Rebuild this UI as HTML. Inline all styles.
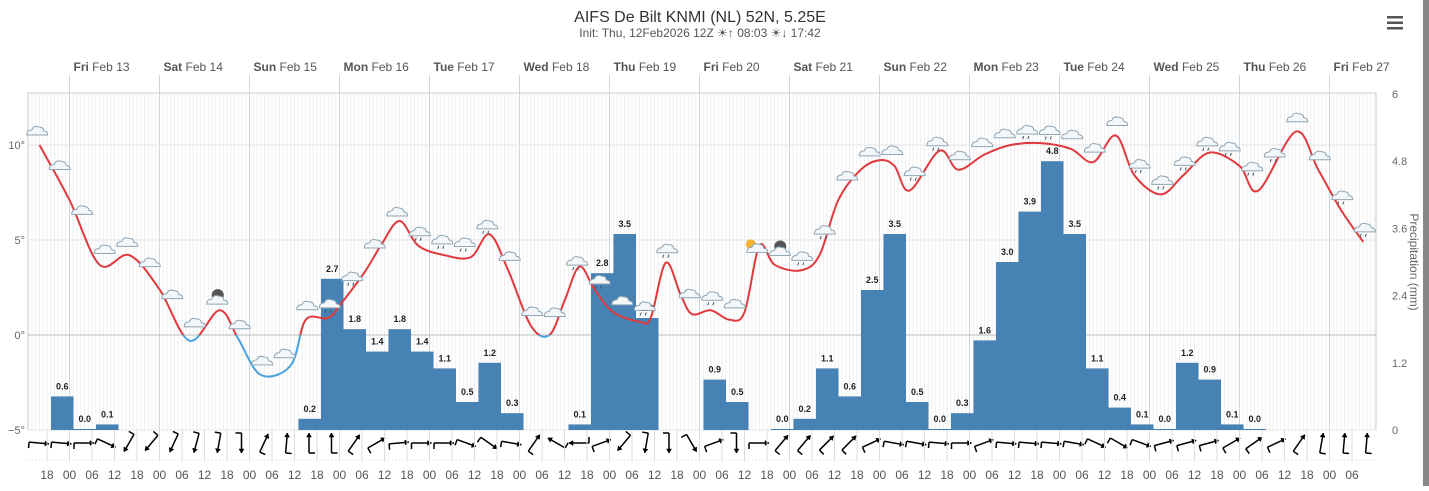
<!DOCTYPE html>
<html><head><meta charset="utf-8"><style>
body{margin:0;background:#fff;width:1429px;height:486px;overflow:hidden;font-family:"Liberation Sans",sans-serif}
</style></head><body>
<svg id="c" width="1429" height="486" viewBox="0 0 1429 486" xmlns="http://www.w3.org/2000/svg" font-family="Liberation Sans, sans-serif">
<defs>
<clipPath id="above"><rect x="0" y="0" width="1429" height="335"/></clipPath>
<clipPath id="below"><rect x="0" y="335" width="1429" height="200"/></clipPath>
</defs>
<rect x="0" y="0" width="1429" height="486" fill="#fff"/>
<g id="grid"></g>
<g id="bars"></g>
<g id="temp"></g>
<g id="icons"></g>
<g id="wind"></g>
<g id="axes"></g>
<text x="700" y="22" text-anchor="middle" font-size="16" fill="#333">AIFS De Bilt KNMI (NL) 52N, 5.25E</text>
<text x="700" y="37" text-anchor="middle" font-size="12" fill="#555">Init: Thu, 12Feb2026 12Z ☀↑ 08:03 ☀↓ 17:42</text>
<g fill="#555">
<rect x="1387" y="16" width="16" height="2.5"/><rect x="1387" y="21.5" width="16" height="2.5"/><rect x="1387" y="27" width="16" height="2.5"/>
</g>
<rect x="1423" y="0" width="6" height="486" fill="#888"/>
<text transform="translate(1410,262) rotate(90)" text-anchor="middle" font-size="12" fill="#666">Precipitation (mm)</text>
</svg>
<script>
// ---- data ----
const precipValues=[0.6,0.0,0.1,null,null,null,null,null,null,null,null,0.2,2.7,1.8,1.4,1.8,1.4,1.1,0.5,1.2,0.3,null,null,0.1,2.8,3.5,2.0,null,null,0.9,0.5,null,0.0,0.2,1.1,0.6,2.5,3.5,0.5,0.0,0.3,1.6,3.0,3.9,4.8,3.5,1.1,0.4,0.1,0.0,1.2,0.9,0.1,0.0];
const precipStartHour=-6; // first bar starts Thu 18Z
const tempHours=[-8,0,8,16,24,32,40,45,51,59,63,69,73,79,83,88,93,100,107,112,117,123,128,132,136,140,145,152,155,159,163,166,171,176,180,184,188,195,200,205,211,216,220,224,232,237,244,251,259,267,273,279,284,291,297,304,312,317,327,333,339,345];
const tempValues=[10.0,7.1,3.7,4.2,2.4,-0.3,1.3,-0.2,-2.1,-1.6,0.8,0.9,1.8,3.4,4.7,6.0,4.7,4.2,4.1,5.3,3.4,0.5,0.0,1.8,3.6,2.4,1.2,0.7,0.9,3.8,2.1,1.1,1.3,0.8,1.2,4.7,3.7,3.4,4.2,7.1,8.7,9.2,8.9,7.6,9.7,8.7,9.5,10.0,10.1,9.8,9.1,10.5,8.4,7.4,8.4,9.6,8.9,7.6,10.7,8.7,6.6,4.9];
const tempTicks=[10,5,0,-5];
const precipTicks=[6,4.8,3.6,2.4,1.2,0];
const dayLabels=[["Fri","Feb 13"],["Sat","Feb 14"],["Sun","Feb 15"],["Mon","Feb 16"],["Tue","Feb 17"],["Wed","Feb 18"],["Thu","Feb 19"],["Fri","Feb 20"],["Sat","Feb 21"],["Sun","Feb 22"],["Mon","Feb 23"],["Tue","Feb 24"],["Wed","Feb 25"],["Thu","Feb 26"],["Fri","Feb 27"]];
const hourLabels=["18","00","06","12"];
// direction the arrow points (deg, 0 = up/north, 90 = right/east)
const windDirs=[95,95,90,115,210,220,205,195,190,180,25,5,0,0,35,60,85,90,90,110,125,100,35,300,270,70,220,190,180,150,70,180,90,40,40,45,45,65,100,100,95,90,70,95,95,95,100,115,120,110,75,75,75,60,55,65,35,10,5,5];
const iconKinds="ccccccccmccccrrccrrrrcccrrcrrcrcsmrrcccrrcccrrcccrrrrrrrccrrcccmmm";
// ---- scales ----
const X=h=>69.5+h*3.75;
const YT=t=>335-t*19;
const YP=p=>430-p*56;
const NS="http://www.w3.org/2000/svg";
function mk(tag,attrs,parent){const e=document.createElementNS(NS,tag);for(const k in attrs)e.setAttribute(k,attrs[k]);parent.appendChild(e);return e;}
const grid=document.getElementById('grid'),axes=document.getElementById('axes');
for(let x=28.25;x<1376;x+=3.75){const l=mk('line',{x1:x,x2:x,y1:93,y2:430,stroke:'#efefef','stroke-width':1},grid);}
for(let d=0;d<15;d++){const x=X(d*24);const l=mk('line',{x1:x,x2:x,y1:75,y2:430,stroke:'#ccd6e0','stroke-width':1},grid);
const t=mk('text',{x:x+4,y:71,'font-size':12,fill:'#555'},axes);
const b=mk('tspan',{'font-weight':'bold'},t);b.textContent=dayLabels[d][0];const s=mk('tspan',{},t);s.textContent=' '+dayLabels[d][1];}
mk('rect',{x:28,y:93,width:1348,height:337,fill:'none',stroke:'#ccc'},grid);
tempTicks.forEach(t=>{const y=YT(t);const l=mk('line',{x1:28,x2:1376,y1:y,y2:y,stroke:t===0?'#bbb':'#e6e6e6','stroke-width':1},grid);
const tx=mk('text',{x:25,y:y+4,'text-anchor':'end','font-size':11,fill:'#666'},axes);tx.textContent=(t<0?'−':'')+Math.abs(t)+'°';});
precipTicks.forEach(p=>{const tx=mk('text',{x:1392,y:YP(p)+4,'font-size':11,fill:'#666'},axes);tx.textContent=p;});
mk('line',{x1:28,x2:1376,y1:460,y2:460,stroke:'#ccc','stroke-dasharray':'1 2.75'},axes);
for(let k=0;k<61;k++){const h=-6+6*k;if(h>342)break;const x=X(h);
const l=mk('line',{x1:x,x2:x,y1:430,y2:462,stroke:'#ddd'},axes);
const t=mk('text',{x:x,y:479,'text-anchor':'middle','font-size':12,fill:'#555'},axes);t.textContent=hourLabels[k%4];}
const bars=document.getElementById('bars');
precipValues.forEach((v,i)=>{if(v===null)return;const h=precipStartHour+6*i;const x0=X(h)+4,x1=X(h+6)+4;const y=YP(v);
const r=mk('rect',{x:x0,y:Math.min(y,429),width:x1-x0,height:Math.max(430-y,1),fill:'#4682b4'},bars);
const t=mk('text',{x:(x0+x1)/2,y:Math.min(y,429)-7,'text-anchor':'middle','font-size':9,'font-weight':'bold',fill:'#222'},bars);t.textContent=v.toFixed(1);});
const pts=tempHours.map((h,i)=>[X(h),YT(tempValues[i])]);
let d='M'+pts[0][0]+','+pts[0][1];
for(let i=0;i<pts.length-1;i++){const p0=pts[Math.max(0,i-1)],p1=pts[i],p2=pts[i+1],p3=pts[Math.min(pts.length-1,i+2)];
const c1=[p1[0]+(p2[0]-p0[0])/6,p1[1]+(p2[1]-p0[1])/6],c2=[p2[0]-(p3[0]-p1[0])/6,p2[1]-(p3[1]-p1[1])/6];
d+=' C'+c1[0]+','+c1[1]+' '+c2[0]+','+c2[1]+' '+p2[0]+','+p2[1];}
const tg=document.getElementById('temp');
const pr=mk('path',{d:d,fill:'none',stroke:'#e0393e','stroke-width':2,'clip-path':'url(#above)'},tg);
const pb=mk('path',{d:d,fill:'none',stroke:'#4aa3df','stroke-width':2,'clip-path':'url(#below)'},tg);
function tempAt(h){for(let i=0;i<tempHours.length-1;i++){if(h<=tempHours[i+1]){const f=(h-tempHours[i])/(tempHours[i+1]-tempHours[i]);return tempValues[i]+f*(tempValues[i+1]-tempValues[i]);}}return tempValues[tempValues.length-1];}
const ig=document.getElementById('icons');
for(let k=0;;k++){const h=-9+6*k;if(h>345)break;const cx=X(h),cy=YT(tempAt(Math.max(h,-8)))-14;
const g=mk('g',{},ig);
const kind=iconKinds[k]||'c';
if(kind==='s'){mk('circle',{cx:cx-5,cy:cy-4,r:5,fill:'#f5b335'},g);}
if(kind==='m'){mk('circle',{cx:cx+2,cy:cy-5,r:6,fill:'#555'},g);}
mk('path',{d:`M${cx-9},${cy+4} q0,-5 5,-5 q2,-5 7,-3 q5,0 5,4 q4,0 4,4 z`,fill:'#f4f7f9',stroke:'#8fa6b5','stroke-width':1},g);
if(kind==='r'){mk('line',{x1:cx-2,y1:cy+6,x2:cx-3,y2:cy+9,stroke:'#456','stroke-width':1},g);mk('line',{x1:cx+3,y1:cy+6,x2:cx+2,y2:cy+9,stroke:'#456','stroke-width':1},g);}
}
const wg=document.getElementById('wind');
windDirs.forEach((dir,i)=>{const cx=X(-6+6*i)-8,cy=443;const a=dir*Math.PI/180;const dx=Math.sin(a)*10,dy=-Math.cos(a)*10;
const g=mk('g',{stroke:'#000','stroke-width':1.5,fill:'none'},wg);
const x1=cx-dx,y1=cy-dy,x2=cx+dx,y2=cy+dy;
mk('line',{x1:x1,y1:y1,x2:x2,y2:y2},g);
const ux=dx/10,uy=dy/10;
mk('path',{d:`M${x2},${y2} L${x2-ux*4-uy*2.5},${y2-uy*4+ux*2.5} L${x2-ux*4+uy*2.5},${y2-uy*4-ux*2.5} Z`,fill:'#000','stroke-width':0.5},g);
mk('line',{x1:x1,y1:y1,x2:x1-uy*6,y2:y1+ux*6},g);});
</script>
</body></html>
